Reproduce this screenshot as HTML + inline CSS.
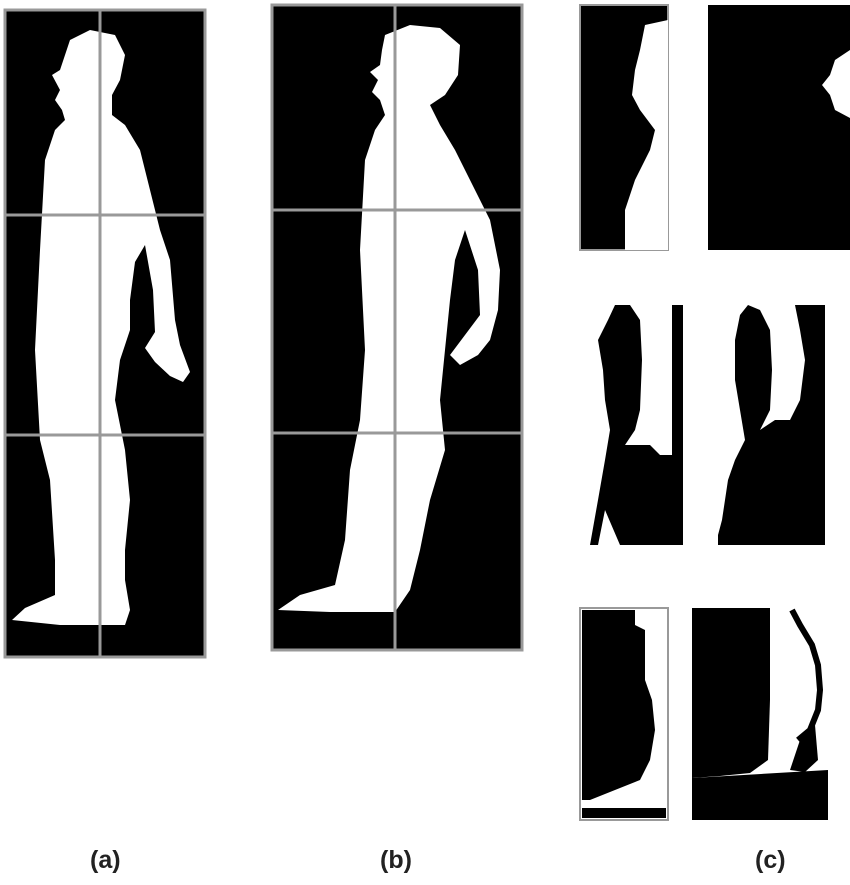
<!DOCTYPE html>
<html><head><meta charset="utf-8"><style>
html,body{margin:0;padding:0;background:#fff;width:850px;height:885px;overflow:hidden}
svg{display:block}
text{font-family:"Liberation Sans",sans-serif;font-size:25px;fill:#222;font-weight:bold}
</style></head><body>
<svg width="850" height="885" viewBox="0 0 850 885">
<g>
<rect x="5" y="10" width="200" height="647" fill="#000" stroke="#999" stroke-width="3"/>
<polygon fill="#fff" points="70,40 90,30 115,35 125,55 120,80 112,95 112,115 125,125 140,150 150,190 160,230 170,260 175,320 180,345 190,372 183,382 170,376 155,362 145,348 155,332 153,290 145,245 135,262 130,300 130,330 120,360 115,400 125,450 130,500 125,550 125,580 130,610 125,625 60,625 12,620 25,608 55,595 55,560 50,480 40,440 35,350 40,250 45,160 55,130 65,120 62,110 55,100 60,90 52,75 60,70 65,55"/>
<line x1="100" y1="10" x2="100" y2="657" stroke="#999" stroke-width="3"/>
<line x1="5" y1="215" x2="205" y2="215" stroke="#999" stroke-width="3"/>
<line x1="5" y1="435" x2="205" y2="435" stroke="#999" stroke-width="3"/>
</g>
<g>
<rect x="272" y="5" width="250" height="645" fill="#000" stroke="#999" stroke-width="3"/>
<polygon fill="#fff" points="385,35 410,25 440,28 460,45 458,75 445,95 430,105 440,125 455,150 475,190 490,220 500,270 498,310 490,340 478,355 460,365 450,355 465,335 480,315 478,270 465,230 455,260 450,300 445,350 440,400 445,450 430,500 420,550 410,590 395,612 330,612 278,610 300,595 335,585 345,540 350,470 360,420 365,350 360,250 365,160 375,130 385,115 380,100 372,92 378,80 370,72 380,65 382,50"/>
<line x1="395" y1="5" x2="395" y2="650" stroke="#999" stroke-width="3"/>
<line x1="272" y1="210" x2="522" y2="210" stroke="#999" stroke-width="3"/>
<line x1="272" y1="433" x2="522" y2="433" stroke="#999" stroke-width="3"/>
</g>
<g>
<rect x="580" y="5" width="88" height="245" fill="#000" stroke="#999" stroke-width="2"/>
<polygon fill="#fff" points="645,25 668,20 668,250 625,250 625,210 635,180 650,150 655,130 640,110 632,95 635,70 640,50"/>
<rect x="708" y="5" width="142" height="245" fill="#000"/>
<polygon fill="#fff" points="850,50 835,60 830,75 822,85 830,95 835,110 850,118"/>
<!-- row 2 left -->
<polygon fill="#000" points="615,305 630,305 640,320 642,360 640,410 635,430 625,445 650,445 660,455 672,455 672,305 683,305 683,545 620,545 605,510 598,545 590,545 598,500 605,460 610,430 605,400 603,370 598,340 608,320"/>
<!-- row 2 right -->
<polygon fill="#000" points="748,305 760,310 770,330 772,370 770,410 760,430 775,420 790,420 800,400 805,360 800,330 795,305 825,305 825,545 718,545 718,535 722,520 728,480 735,460 745,440 740,410 735,380 735,340 740,315"/>
<!-- row 3 left -->
<rect x="580" y="608" width="88" height="212" fill="#fff" stroke="#999" stroke-width="2"/>
<polygon fill="#000" points="582,610 635,610 635,625 645,630 645,680 652,700 655,730 650,760 640,780 615,790 590,800 582,800"/>
<rect x="582" y="808" width="84" height="10" fill="#000"/>
<!-- row 3 right -->
<polygon fill="#000" points="692,608 770,608 770,700 768,760 750,773 720,776 692,778"/>
<polygon fill="#000" points="692,778 828,770 828,820 692,820"/>
<polyline fill="none" stroke="#000" stroke-width="6" points="792,610 800,625 812,645 818,665 820,690 818,710 810,730 798,740"/>
<polygon fill="#000" points="800,740 815,725 818,760 805,772 790,770"/>
</g>
<text x="90" y="868">(a)</text>
<text x="380" y="868">(b)</text>
<text x="755" y="868">(c)</text>
</svg>
</body></html>
